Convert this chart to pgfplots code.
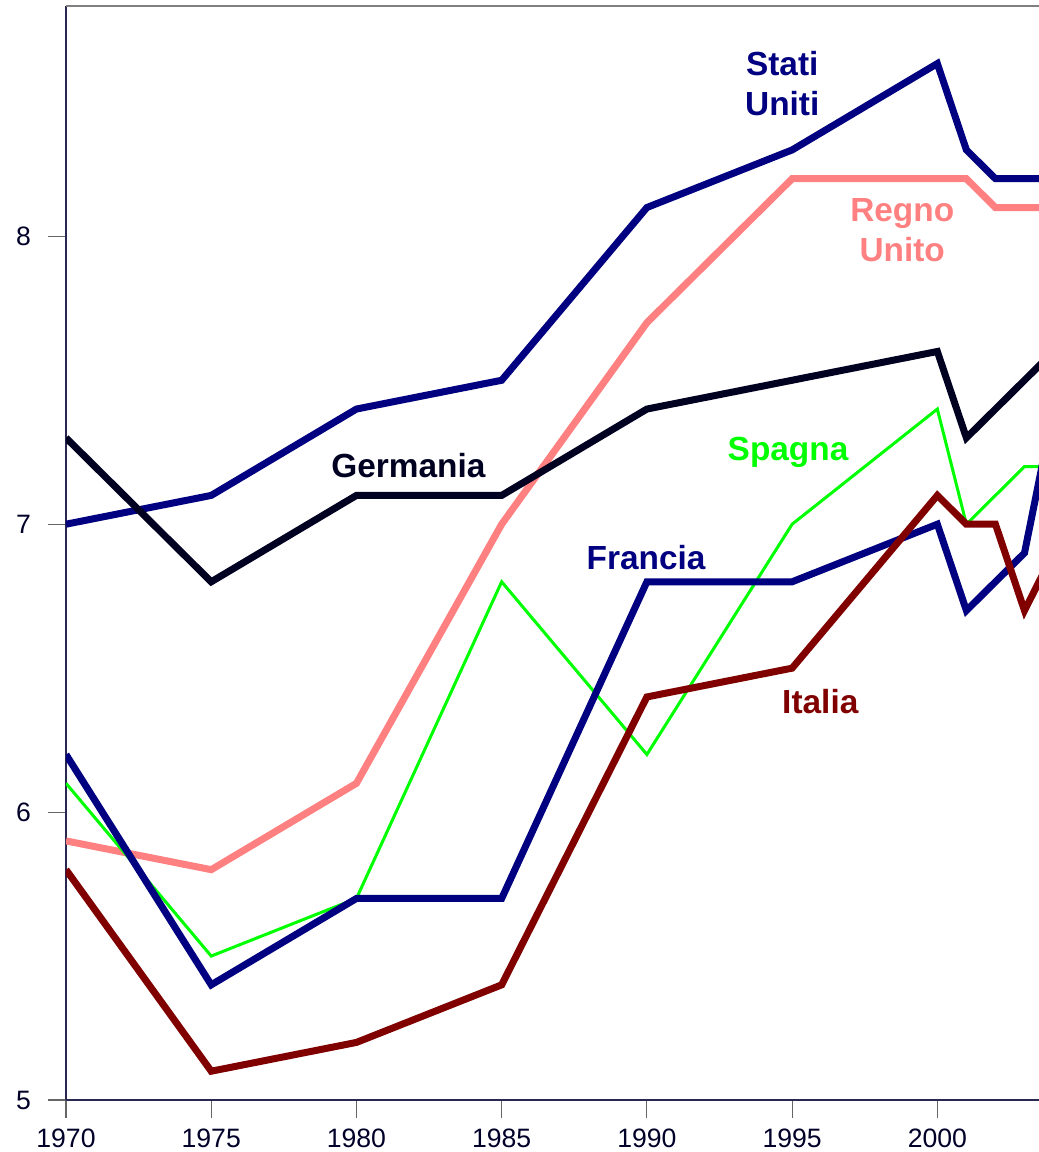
\documentclass[border=0pt]{standalone}
\usepackage{fontspec}
\setmainfont{Liberation Sans}
\usepackage{pgfplots}
\pgfplotsset{compat=1.18}

\definecolor{usa}{RGB}{0,0,128}
\definecolor{uk}{RGB}{255,128,128}
\definecolor{ger}{RGB}{0,0,32}
\definecolor{spa}{RGB}{0,255,0}
\definecolor{fra}{RGB}{0,0,128}
\definecolor{ita}{RGB}{128,0,0}
\definecolor{axcol}{RGB}{40,40,80}
\definecolor{tickcol}{RGB}{0,0,40}

\begin{document}
\begin{tikzpicture}
\begin{axis}[
    at={(0,0)}, anchor=south west,
    width=486.5pt, height=547pt,
    scale only axis,
    xmin=1970, xmax=2003.5,
    ymin=5, ymax=8.8,
    axis x line*=bottom,
    axis y line*=left,
    axis line style={axcol, line width=0.8pt},
    xtick={1970,1975,...,2000},
    ytick={5,6,7,8},
    tick align=outside,
    major tick length=9pt,
    tick style={gray!80!black, line width=0.6pt},
    xticklabel style={/pgf/number format/1000 sep={}, font=\fontsize{13.3}{15}\selectfont, text=tickcol, yshift=-2pt},
    yticklabel style={font=\fontsize{13.3}{15}\selectfont, text=tickcol, xshift=-5pt},
    /pgf/number format/assume math mode=true,
    x tick label style={/pgf/number format/1000 sep={}},
    line join=miter,
    every axis plot/.append style={line width=3.5pt},
    clip=true,
]
% Stati Uniti
\addplot[usa] coordinates {
 (1970,7.0) (1975,7.1) (1980,7.4) (1985,7.5) (1990,8.1) (1995,8.3)
 (2000,8.6) (2001,8.3) (2002,8.2) (2003,8.2) (2004,8.2)};
% Regno Unito
\addplot[uk] coordinates {
 (1970,5.9) (1975,5.8) (1980,6.1) (1985,7.0) (1990,7.7) (1995,8.2)
 (2000,8.2) (2001,8.2) (2002,8.1) (2003,8.1) (2004,8.1)};
% Germania
\addplot[ger] coordinates {
 (1970,7.3) (1975,6.8) (1980,7.1) (1985,7.1) (1990,7.4) (1995,7.5)
 (2000,7.6) (2001,7.3) (2002,7.4) (2003,7.5) (2004,7.6)};
% Spagna
\addplot[spa, line width=1.5pt] coordinates {
 (1970,6.1) (1975,5.5) (1980,5.7) (1985,6.8) (1990,6.2) (1995,7.0)
 (2000,7.4) (2001,7.0) (2002,7.1) (2003,7.2) (2004,7.2)};
% Francia
\addplot[fra] coordinates {
 (1970,6.2) (1975,5.4) (1980,5.7) (1985,5.7) (1990,6.8) (1995,6.8)
 (2000,7.0) (2001,6.7) (2002,6.8) (2003,6.9) (2004,7.4)};
% Italia
\addplot[ita] coordinates {
 (1970,5.8) (1975,5.1) (1980,5.2) (1985,5.4) (1990,6.4) (1995,6.5)
 (2000,7.1) (2001,7.0) (2002,7.0) (2003,6.7) (2004,6.9)};

\draw[gray, line width=0.8pt] (rel axis cs:0,1) -- (rel axis cs:1,1);

\begin{scope}[every node/.style={font=\bfseries\fontsize{16.7}{20}\selectfont, align=center, inner sep=0pt}]
\node[text=usa] at (axis cs:1994.66,8.53) {Stati\\Uniti};
\node[text=uk] at (axis cs:1998.79,8.02) {Regno\\Unito};
\node[text=ger] at (axis cs:1981.79,7.204) {Germania};
\node[text=spa] at (axis cs:1994.86,7.25) {Spagna};
\node[text=fra] at (axis cs:1989.97,6.884) {Francia};
\node[text=ita] at (axis cs:1995.97,6.383) {Italia};
\end{scope}
\end{axis}
\pgfresetboundingbox
\useasboundingbox (-33pt,-26pt) rectangle (486.5pt,550pt);
\end{tikzpicture}
\end{document}
